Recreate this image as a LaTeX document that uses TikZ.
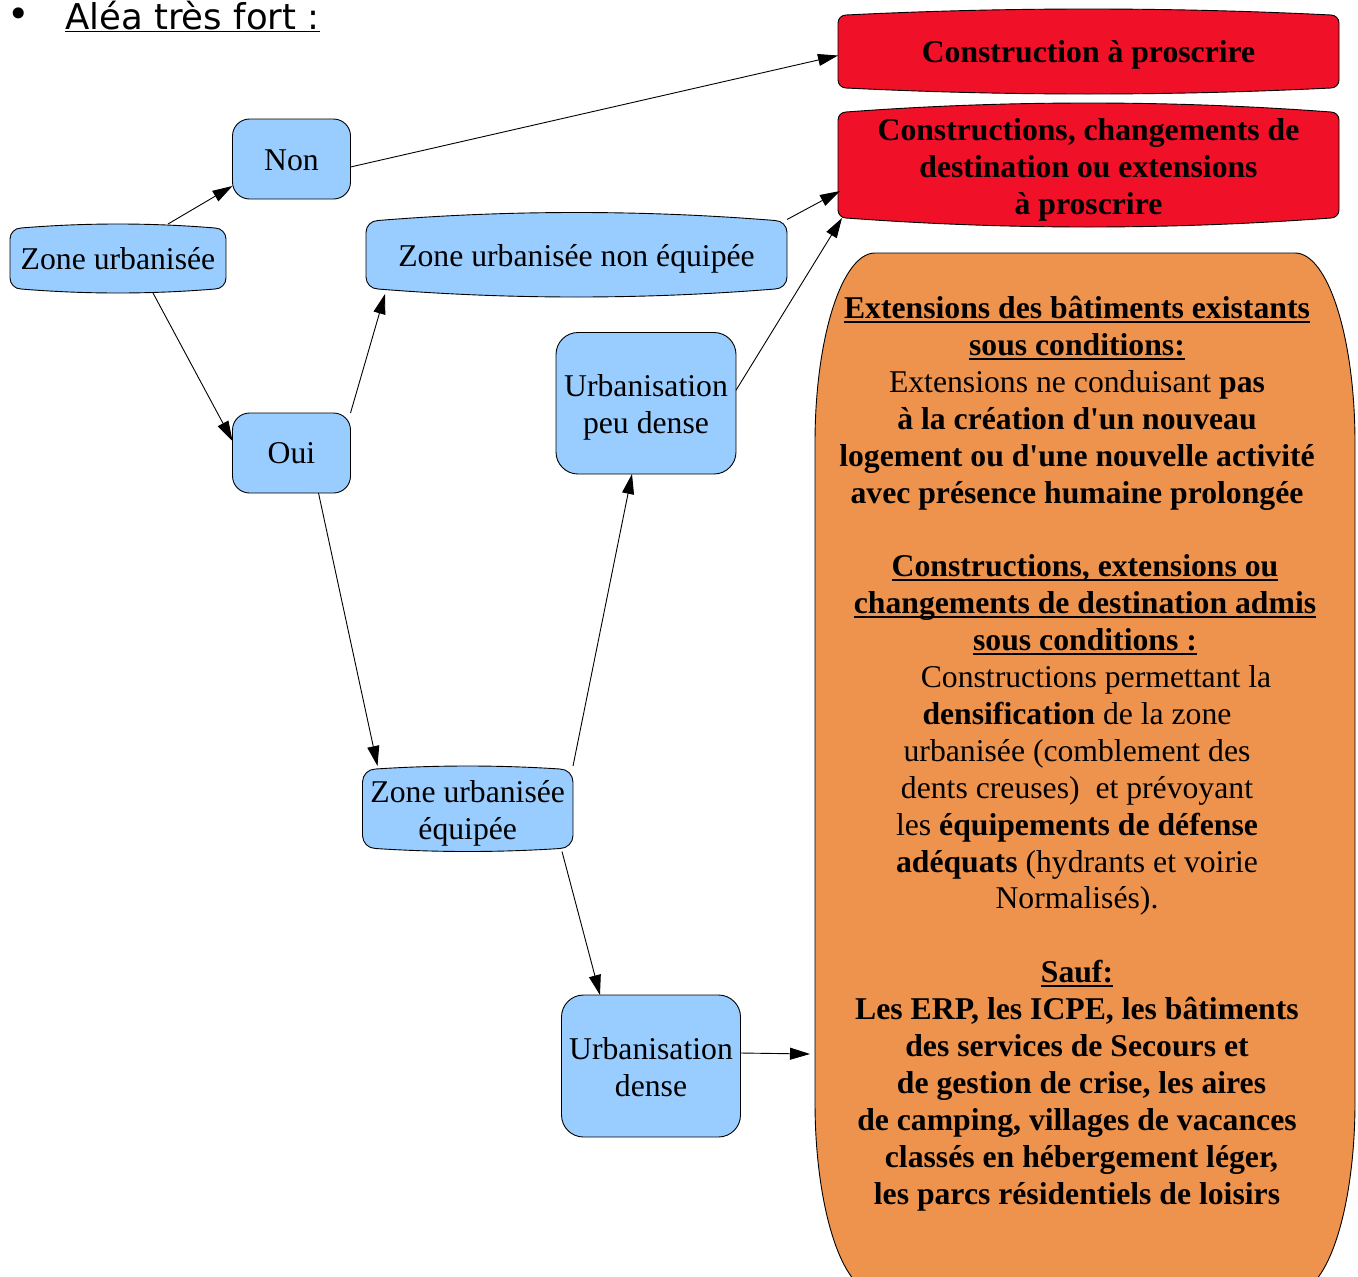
\documentclass[tikz,border=0pt]{standalone}
\usepackage{fontspec}
\setmainfont{Liberation Serif}
\setsansfont{DejaVu Sans}
\usetikzlibrary{arrows.meta,calc,backgrounds}
\definecolor{bluefill}{RGB}{153,204,255}
\definecolor{redfill}{RGB}{240,16,40}
\definecolor{orangefill}{RGB}{238,147,77}
\newcommand\myul[1]{\setbox0\hbox{#1}\rlap{\rule[-4.5pt]{\wd0}{1.9pt}}\box0}
% bulged box drawn around a named node: #1 node, #2 bulge, #3 corner radius, #4 style
\newcommand\bulgebox[4]{%
 \path[#4] let \p1=(#1.north west), \p2=(#1.south east), \n1={(\x2-\x1)/3-2*#3pt/3} in
 (\x1,{\y1-#2pt-#3pt})
 .. controls (\x1,{\y1-#2pt-0.45*#3pt}) and ({\x1+0.45*#3pt},{\y1-#2pt}) .. ({\x1+#3pt},{\y1-#2pt})
 .. controls ({\x1+#3pt+\n1},{\y1+#2pt/3}) and ({\x2-#3pt-\n1},{\y1+#2pt/3}) .. ({\x2-#3pt},{\y1-#2pt})
 .. controls ({\x2-0.45*#3pt},{\y1-#2pt}) and (\x2,{\y1-#2pt-0.45*#3pt}) .. (\x2,{\y1-#2pt-#3pt})
 -- (\x2,{\y2+#2pt+#3pt})
 .. controls (\x2,{\y2+#2pt+0.45*#3pt}) and ({\x2-0.45*#3pt},{\y2+#2pt}) .. ({\x2-#3pt},{\y2+#2pt})
 .. controls ({\x2-#3pt-\n1},{\y2-#2pt/3}) and ({\x1+#3pt+\n1},{\y2-#2pt/3}) .. ({\x1+#3pt},{\y2+#2pt})
 .. controls ({\x1+0.45*#3pt},{\y2+#2pt}) and (\x1,{\y2+#2pt+0.45*#3pt}) .. (\x1,{\y2+#2pt+#3pt})
 -- cycle;}
\tikzset{
 lbl/.style={font=\rmfamily\fontsize{31.7}{36.9}\selectfont, align=center, inner sep=0pt, outer sep=0pt},
 blbl/.style={lbl, font=\rmfamily\bfseries\fontsize{31.7}{36.9}\selectfont},
 rbox/.style={draw=black, fill=bluefill, rounded corners=#1, line width=0.9pt, inner sep=0pt, outer sep=0pt},
 bbox/.style={inner sep=0pt, outer sep=0pt},
 shapeblue/.style={draw=black, fill=bluefill, line width=0.9pt},
 shapered/.style={draw=black, fill=redfill, line width=0.9pt},
 arr/.style={-{Triangle[length=20pt,width=12pt]}, line width=0.9pt},
}
\begin{document}
\begin{tikzpicture}[x=1pt,y=-1pt]
\useasboundingbox (0,0) rectangle (1358,1277);
% title
\node[font=\sffamily\fontsize{38}{40}\selectfont, inner sep=0pt] (bullet) at (19,18) {•};
\node[font=\sffamily\fontsize{35.5}{40}\selectfont, anchor=base west, inner sep=0pt] (title) at (65,29) {\underline{Aléa très fort :}};
% box nodes
\node[bbox, minimum width=216, minimum height=69] (zu) at (118,258.5) {};
\node[rbox=17pt, minimum width=118, minimum height=80] (non) at (291.5,159) {};
\node[rbox=17pt, minimum width=118, minimum height=80] (oui) at (291.5,453) {};
\node[bbox, minimum width=421, minimum height=84.5] (zune) at (576.5,254.75) {};
\node[rbox=22pt, minimum width=180, minimum height=141.5] (upd) at (646,403.25) {};
\node[bbox, minimum width=210.5, minimum height=85.5] (zue) at (467.75,808.75) {};
\node[rbox=22pt, minimum width=179, minimum height=142] (ud) at (651,1066) {};
\node[bbox, minimum width=501, minimum height=85] (r1) at (1088.5,51.5) {};
\node[bbox, minimum width=501, minimum height=124] (r2) at (1088.5,165) {};
\node[bbox, minimum width=540, minimum height=1039] (orange) at (1085,772.5) {};
% box texts
\node[lbl] (zu-t) at ($(zu.center)+(0,0.5)$) {Zone urbanisée};
\node[lbl] (non-t) at ($(non.center)+(0,1)$) {Non};
\node[lbl] (oui-t) at ($(oui.center)+(0,0.5)$) {Oui};
\node[lbl] (zune-t) at ($(zune.center)+(0,4)$) {Zone urbanisée non équipée};
\node[lbl] (upd-t) at ($(upd.center)+(0,4)$) {Urbanisation\\peu dense};
\node[lbl] (zue-t) at ($(zue.center)+(0,5)$) {Zone urbanisée\\équipée};
\node[lbl] (ud-t) at ($(ud.center)+(0,1)$) {Urbanisation\\dense};
\node[blbl] (r1-t) at ($(r1.center)+(0,3)$) {Construction à proscrire};
\node[blbl] (r2-t) at ($(r2.center)+(0,5)$) {Constructions, changements de\\destination ou extensions\\à proscrire};
\node[lbl, anchor=north] (otext) at (1077,292.7) {%
\strut\textbf{\myul{Extensions des bâtiments existants}}\\
\textbf{\myul{sous conditions:}}\\
Extensions ne conduisant \textbf{pas}\\
\textbf{à la création d\textquotesingle un nouveau}\\
\textbf{logement ou d\textquotesingle une nouvelle activité}\\
\textbf{avec présence humaine prolongée}\\
\mbox{}\\
\hspace*{16pt}\textbf{\myul{Constructions, extensions ou}}\\
\hspace*{16pt}\textbf{\myul{changements de destination admis}}\\
\hspace*{16pt}\textbf{\myul{sous conditions :}}\\
\hspace*{38pt}Constructions permettant la\\
\textbf{densification} de la zone\\
urbanisée (comblement des\\
dents creuses)\ \ et prévoyant\\
les \textbf{équipements de défense}\\
\textbf{adéquats} (hydrants et voirie\\
Normalisés).\\
\mbox{}\\
\textbf{\myul{Sauf:}}\\
\textbf{Les ERP, les ICPE, les bâtiments}\\
\textbf{des services de Secours et}\\
\hspace*{9pt}\textbf{de gestion de crise, les aires}\\
\textbf{de camping, villages de vacances}\\
\hspace*{9pt}\textbf{classés en hébergement léger,}\\
\textbf{les parcs résidentiels de loisirs}};
% shapes on background
\begin{scope}[on background layer]
\bulgebox{zu}{4}{11}{shapeblue}
\bulgebox{zune}{8}{12}{shapeblue}
\bulgebox{zue}{3}{13}{shapeblue}
\bulgebox{r1}{6}{8}{shapered}
\bulgebox{r2}{9}{8}{shapered}
\path[draw=black, fill=orangefill, line width=0.9pt]
 (815,443) .. controls (815,338) and (842,253) .. (875,253) -- (1295,253)
 .. controls (1328,253) and (1355,338) .. (1355,443) -- (1355,1102)
 .. controls (1355,1207) and (1328,1292) .. (1295,1292) -- (875,1292)
 .. controls (842,1292) and (815,1207) .. (815,1102) -- cycle;
\end{scope}
% connectors
\draw[arr] ($(zu.north)+(50,0)$) -- ($(non.west)+(0,27)$);
\draw[arr] ($(zu.south)+(35,0)$) -- ($(oui.west)+(0,-12)$);
\draw[arr] ($(non.east)+(0,8)$) -- ($(r1.west)+(0,4)$);
\draw[arr] (oui.north east) -- ($(zune.south west)+(19,-3)$);
\draw[arr] ($(oui.south)+(27,0)$) -- ($(zue.north west)+(15,0)$);
\draw[arr] ($(zune.north east)+(0,7)$) -- ($(r2.west)+(2,26)$);
\draw[arr] ($(upd.east)+(0,-13)$) -- ($(r2.south west)+(4,-9)$);
\draw[arr] (zue.north east) -- ($(upd.south)+(-14,0)$);
\draw[arr] ($(zue.south east)+(-11,0)$) -- ($(ud.north)+(-51,0)$);
\draw[arr] ($(ud.east)+(0,-13)$) -- ($(orange.west)+(-5,281.5)$);
\end{tikzpicture}
\end{document}
